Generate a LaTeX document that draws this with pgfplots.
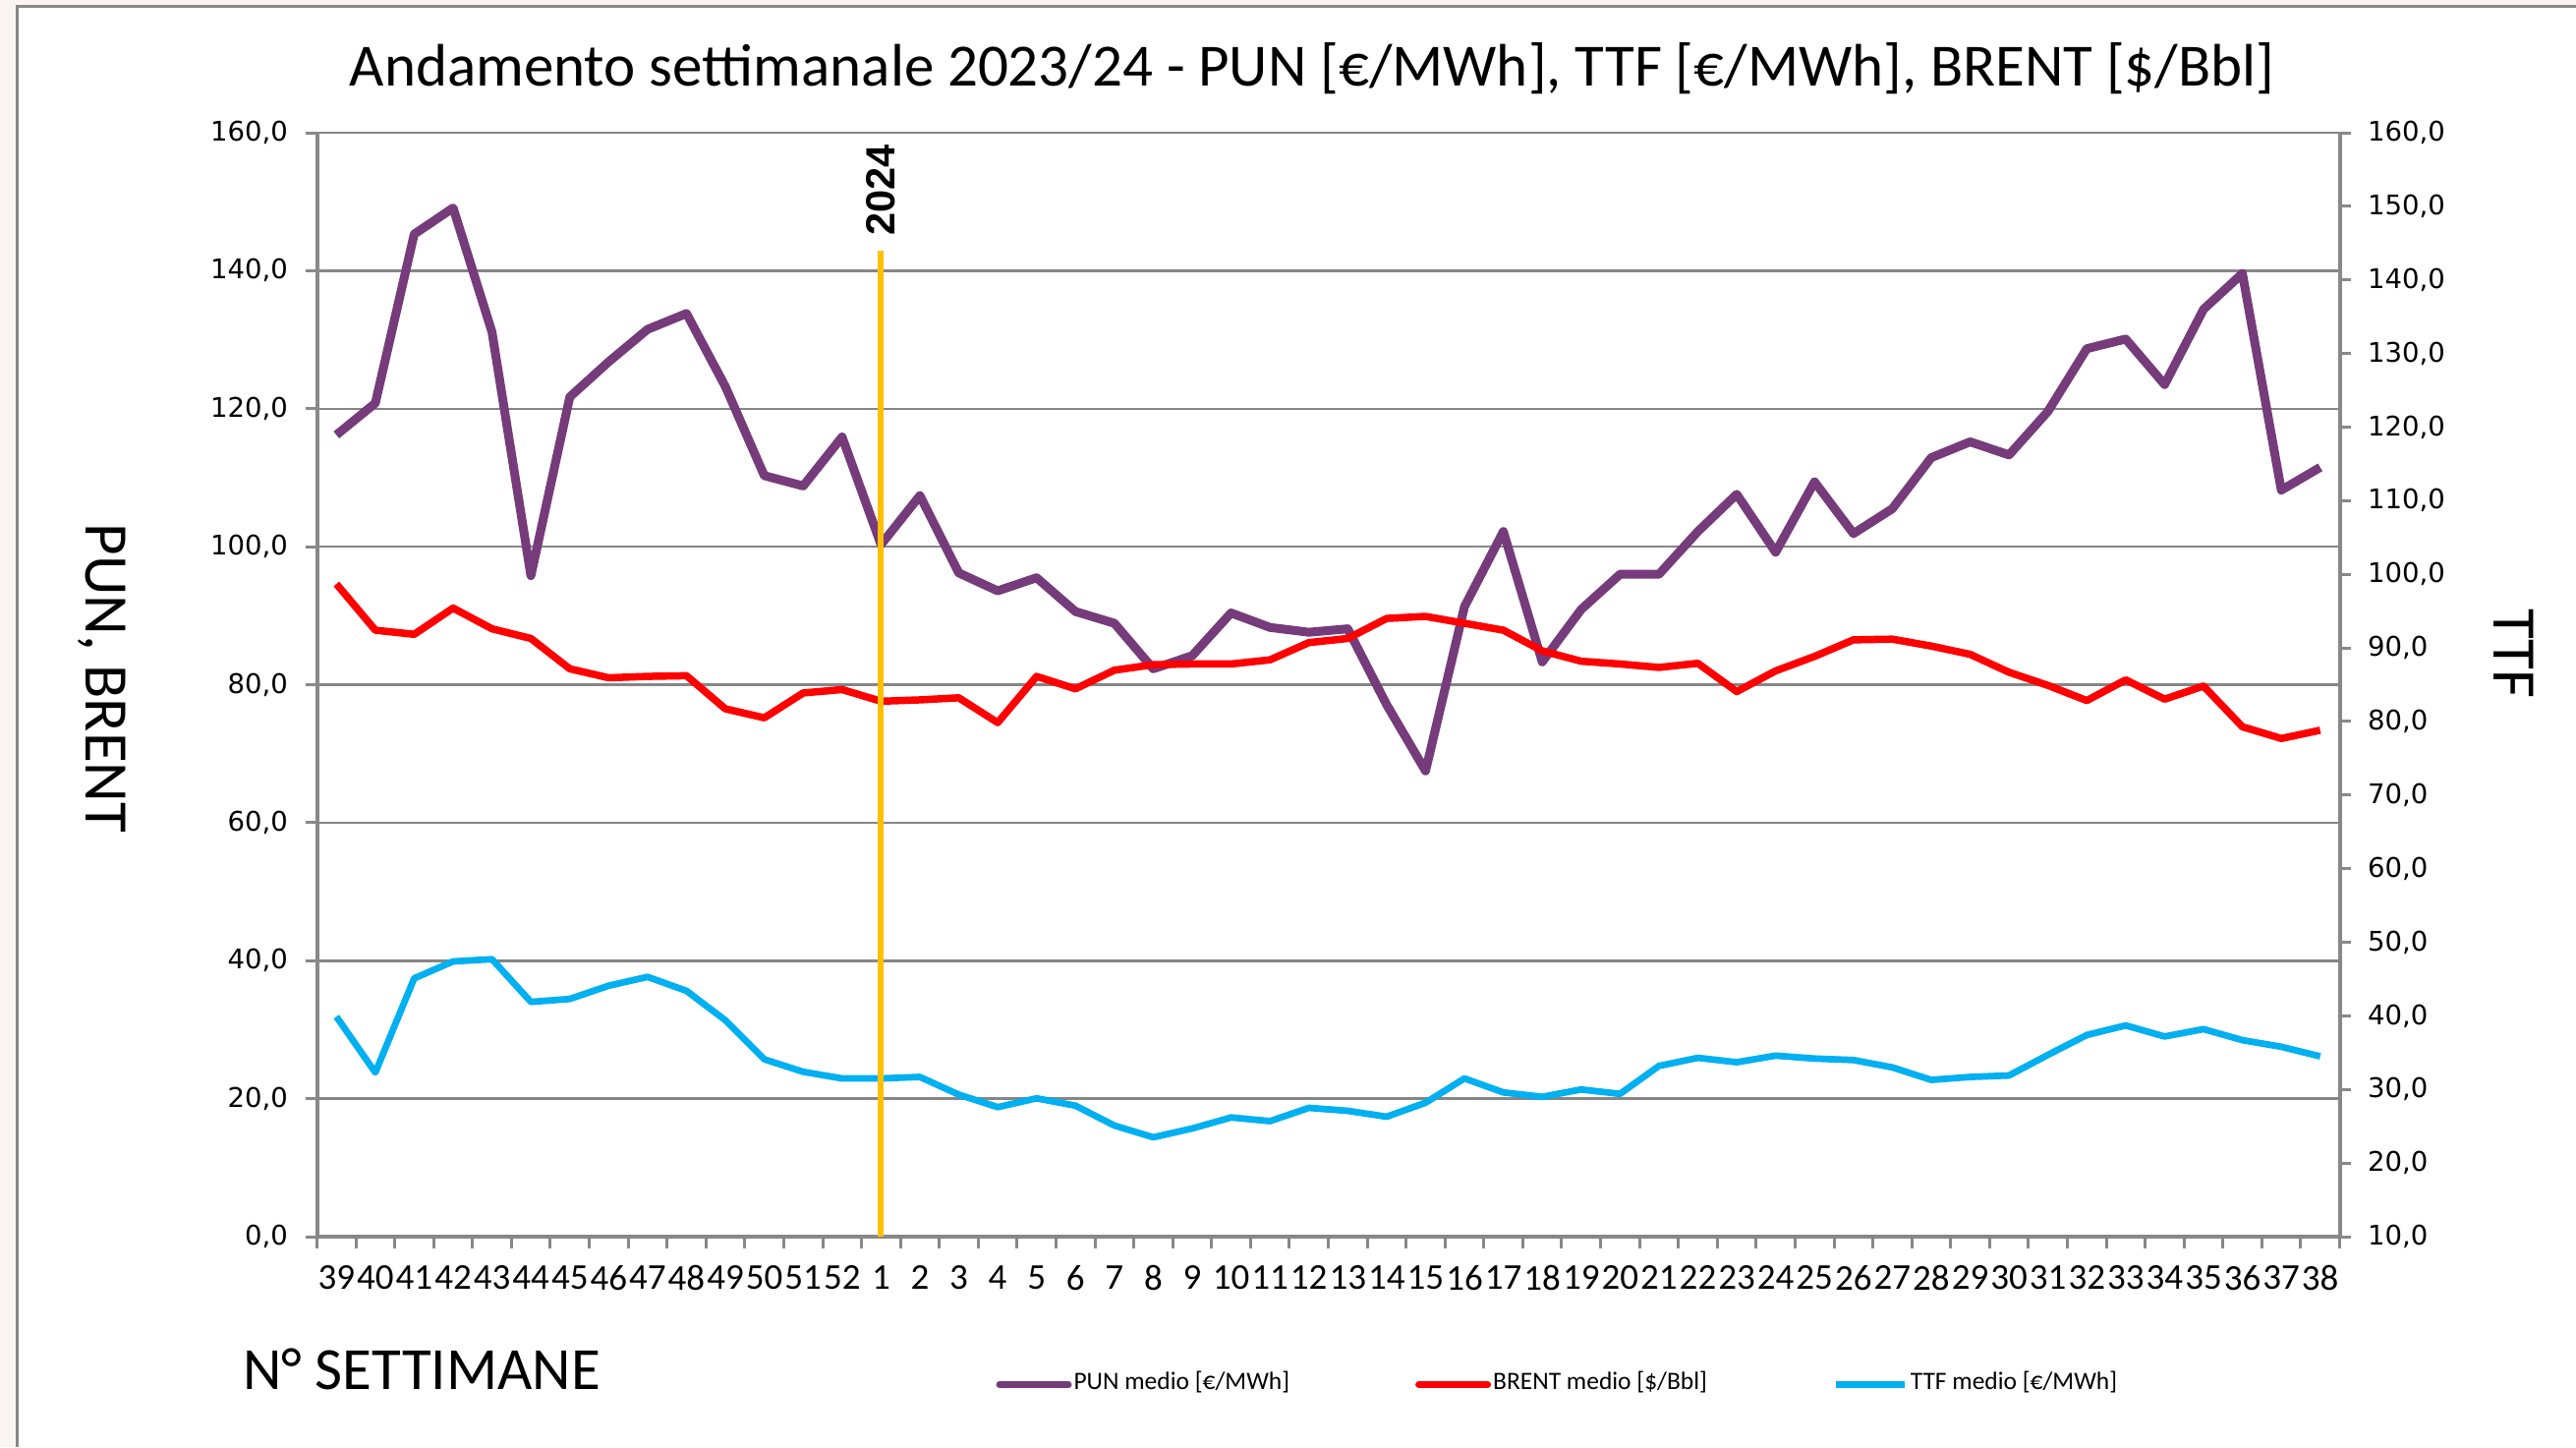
\documentclass[border=0pt]{standalone}
\usepackage{pgfplots}
\pgfplotsset{compat=1.18}
\usepackage{pgfplotstable}
\usepackage{fontspec}
\setmainfont{Carlito}
\newfontfamily\dejavu{DejaVu Sans}
\newfontfamily\arial{Liberation Sans}

\definecolor{pun}{RGB}{118,59,122}
\definecolor{brent}{RGB}{255,0,0}
\definecolor{ttf}{RGB}{0,176,240}
\definecolor{anno}{RGB}{255,192,0}
\definecolor{gridc}{RGB}{134,134,134}
\definecolor{axisc}{RGB}{136,136,136}
\definecolor{tint}{RGB}{250,244,244}

% settimane 39/2023 .. 38/2024, x = 1..52
\pgfplotstableread{
x pun brent ttf
1 116.2 94.6 39.9
2 120.8 87.9 32.3
3 145.3 87.3 45.1
4 149.1 91.1 47.4
5 131.1 88.1 47.7
6 95.8 86.7 41.9
7 121.7 82.3 42.3
8 126.8 81.0 44.1
9 131.5 81.2 45.3
10 133.8 81.3 43.4
11 123.2 76.5 39.4
12 110.3 75.2 34.1
13 108.8 78.8 32.4
14 115.9 79.3 31.5
15 100.3 77.6 31.5
16 107.4 77.8 31.7
17 96.2 78.1 29.3
18 93.6 74.5 27.6
19 95.5 81.2 28.8
20 90.6 79.4 27.8
21 88.9 82.1 25.1
22 82.3 82.9 23.5
23 84.2 83.0 24.7
24 90.4 83.0 26.2
25 88.3 83.6 25.7
26 87.6 86.1 27.5
27 88.1 86.7 27.1
28 77.1 89.6 26.3
29 67.5 89.9 28.2
30 91.3 88.9 31.5
31 102.2 87.9 29.6
32 83.3 84.9 29.0
33 90.9 83.4 30.0
34 96.0 83.0 29.4
35 96.0 82.5 33.2
36 102.2 83.1 34.3
37 107.6 79.0 33.7
38 99.2 82.0 34.6
39 109.4 84.1 34.2
40 101.9 86.5 34.0
41 105.5 86.6 33.0
42 112.9 85.6 31.3
43 115.2 84.4 31.7
44 113.3 81.8 31.9
45 119.6 79.9 34.7
46 128.7 77.7 37.4
47 130.1 80.7 38.7
48 123.5 77.9 37.2
49 134.4 79.8 38.2
50 139.6 73.9 36.7
51 108.2 72.2 35.8
52 111.5 73.4 34.5
}\dati

\pgfplotsset{
  comune/.style={
    at={(64.5pt,-251.6pt)}, anchor=south west,
    scale only axis, width=411.6pt, height=224.6pt,
    xmin=0.5, xmax=52.5,
    tick align=outside,
    axis line style={-, draw=axisc, line width=0.8pt},
    tick style={draw=axisc, line width=0.6pt},
    yticklabel style={font=\dejavu\fontsize{5.5}{6}\selectfont,
      /pgf/number format/.cd, fixed, fixed zerofill, precision=1,
      use comma, assume math mode=true},
  },
}

\begin{document}
\begin{tikzpicture}
\useasboundingbox (0,0) rectangle (524.2pt,-294.4pt);
\fill[tint] (0,0) rectangle (524.2pt,-294.4pt);
\fill[white] (3.4pt,-1.2pt) rectangle (524.2pt,-294.4pt);
\draw[axisc, line width=0.6pt] (3.4pt,-294.4pt) -- (3.4pt,-1.2pt) -- (524.2pt,-1.2pt);

\begin{axis}[comune,
  ymin=0, ymax=160,
  axis x line*=bottom, axis y line*=left,
  xtick={1,...,52},
  xticklabels={39,40,41,42,43,44,45,46,47,48,49,50,51,52,1,2,3,4,5,6,7,8,9,10,11,12,13,14,15,16,17,18,19,20,21,22,23,24,25,26,27,28,29,30,31,32,33,34,35,36,37,38},
  minor xtick={0.5,1.5,...,52.5},
  major x tick style={draw=none},
  major tick length=2.4pt, minor tick length=2.4pt,
  xticklabel style={font=\fontsize{7.4}{8}\selectfont},
  ytick={0,20,...,160},
  ymajorgrids, major grid style={draw=gridc, line width=0.5pt},
]
\addplot[pun, line width=1.8pt, line join=round] table[x=x, y=pun] {\dati};
\addplot[brent, line width=1.5pt, line join=round] table[x=x, y=brent] {\dati};
\end{axis}

\begin{axis}[comune,
  ymin=10, ymax=160,
  axis y line*=right, axis x line=none,
  ytick={10,20,...,160},
  major tick length=2.2pt,
  legend columns=3,
  legend cell align=left,
  legend image code/.code={\draw[#1] (0pt,0pt) -- (14pt,0pt);},
  legend style={at={(axis description cs:0.3353,-0.134)}, anchor=west,
    draw=none, fill=none, inner sep=0pt,
    nodes={inner sep=0.4pt},
    font=\fontsize{5.1}{6}\selectfont,
    /tikz/every even column/.append style={column sep=25.2pt}},
]
\addlegendimage{pun, line width=1.4pt, line cap=round}
\addlegendentry{PUN medio [€/MWh]}
\addlegendimage{brent, line width=1.4pt, line cap=round}
\addlegendentry{BRENT medio [\$/Bbl]}
\addplot[ttf, line width=1.35pt, line join=round] table[x=x, y=ttf] {\dati};
\addlegendentry{TTF medio [€/MWh]}
\addplot[anno, line width=1.2pt, forget plot] coordinates {(15,10) (15,143.97)};
\node[rotate=90, font=\arial\bfseries\fontsize{8.3}{9}\selectfont] at (axis cs:15,152.2) {2024};
\end{axis}

\node[anchor=base, font=\fontsize{12.2}{14}\selectfont] at (267pt,-17.6pt)
  {Andamento settimanale 2023/24 - PUN [€/MWh], TTF [€/MWh], BRENT [\$/Bbl]};
\node[rotate=-90, font=\fontsize{12.6}{14}\selectfont] at (20.8pt,-138pt) {PUN, BRENT};
\node[rotate=-90, font=\fontsize{12.6}{14}\selectfont] at (511.6pt,-133pt) {TTF};
\node[anchor=base west, inner sep=0pt, font=\fontsize{12.2}{14}\selectfont] at (49.2pt,-282.6pt) {N° SETTIMANE};
\end{tikzpicture}
\end{document}
